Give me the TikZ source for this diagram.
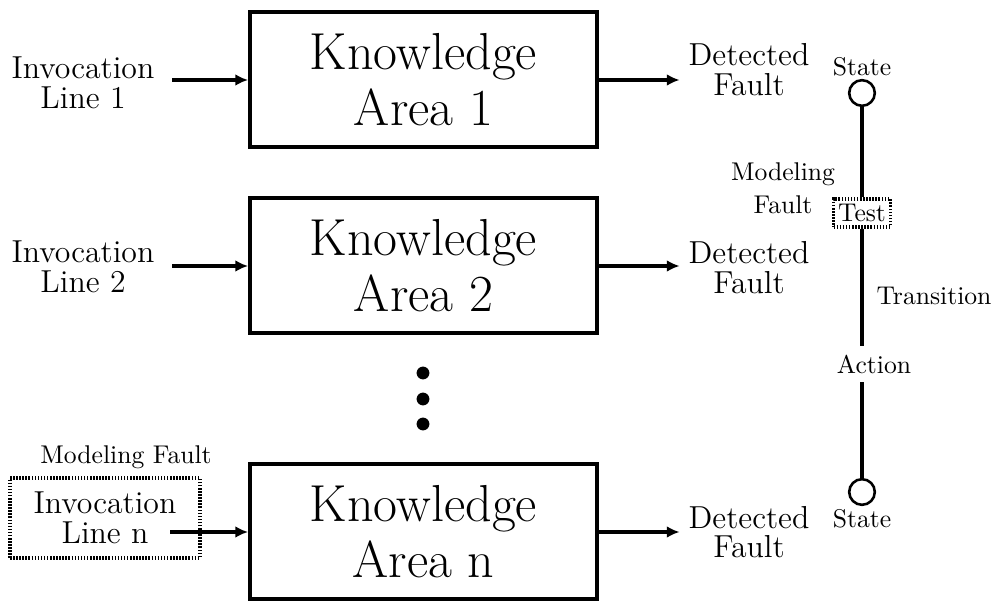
\documentclass[tikz,border=0pt]{standalone}
\usetikzlibrary{arrows.meta}

\tikzset{
  kabox/.style={draw, line width=1.5pt, minimum width=135.3pt, minimum height=52.6pt, inner sep=0pt,
    align=center, font=\fontsize{20.3}{21.8}\selectfont},
  linetxt/.style={align=center, font=\fontsize{12.4}{11.6}\selectfont},
  feed/.style={line width=1.5pt, -{Latex[length=5pt,width=4.6pt]}},
  faultbox/.style={draw, line width=1.5pt, dash pattern=on 0.6pt off 0.6pt},
  statenode/.style={draw, circle, line width=1pt, minimum size=10pt, inner sep=0pt},
  trans/.style={line width=1.2pt},
}

\begin{document}
\begin{tikzpicture}[x=0.39pt, y=-0.39pt]
    \useasboundingbox (0,0) rectangle (1000,601);
    % knowledge areas
    \node[kabox] (ka1) at (423.5,79.5) {Knowledge\\Area 1};
    \node[kabox] (ka2) at (423.5,265.5) {Knowledge\\Area 2};
    \node[kabox] (kan) at (423.5,531.5) {Knowledge\\Area n};
    \foreach \y in {373,399,424} \fill (423,\y) circle (2.5pt);
    % invocation lines
    \node[linetxt] (inv1) at (83,83) {Invocation\\Line 1};
    \node[linetxt] (inv2) at (83,267) {Invocation\\Line 2};
    \node[linetxt, faultbox, minimum width=74.1pt, minimum height=31.2pt] (invn) at (105,518) {Invocation\\Line n};
    \node (mfn) at (126,457) {Modeling Fault};
    \coordinate (in1) at (172,80);
    \coordinate (in2) at (172,266);
    \coordinate (inn) at (170,532);
    \draw[feed] (in1) -- (in1 -| ka1.west);
    \draw[feed] (in2) -- (in2 -| ka2.west);
    \draw[feed] (inn) -- (inn -| kan.west);
    % detected faults
    \node[linetxt] (df1) at (749,70) {Detected\\Fault};
    \node[linetxt] (df2) at (749,268) {Detected\\Fault};
    \node[linetxt] (dfn) at (749,532) {Detected\\Fault};
    \draw[feed] (ka1.east |- in1) -- (in1 -| df1.west);
    \draw[feed] (ka2.east |- in2) -- (in2 -| df2.west);
    \draw[feed] (kan.east |- inn) -- (inn -| dfn.west);
    % state transition
    \node[statenode, label={[inner sep=1pt]above:State}] (s1) at (862,93) {};
    \node[statenode, label={[inner sep=1pt]below:State}] (s2) at (862,492) {};
    \node[draw, line width=1.2pt, dash pattern=on 0.6pt off 0.6pt, minimum width=22.2pt, minimum height=10.9pt, inner sep=0.5pt] (test) at (862,213) {Test};
    \node[align=center, font=\fontsize{10}{12.9}\selectfont] (mf) at (783,188) {Modeling\\Fault};
    \node (act) at (874,364) {Action};
    \node (tr) at (934,296) {Transition};
    \draw[trans] (s1) -- (test);
    \draw[trans] (test) -- (test |- act.north);
    \draw[trans] (test |- act.south) -- (s2);
\end{tikzpicture}
\end{document}
